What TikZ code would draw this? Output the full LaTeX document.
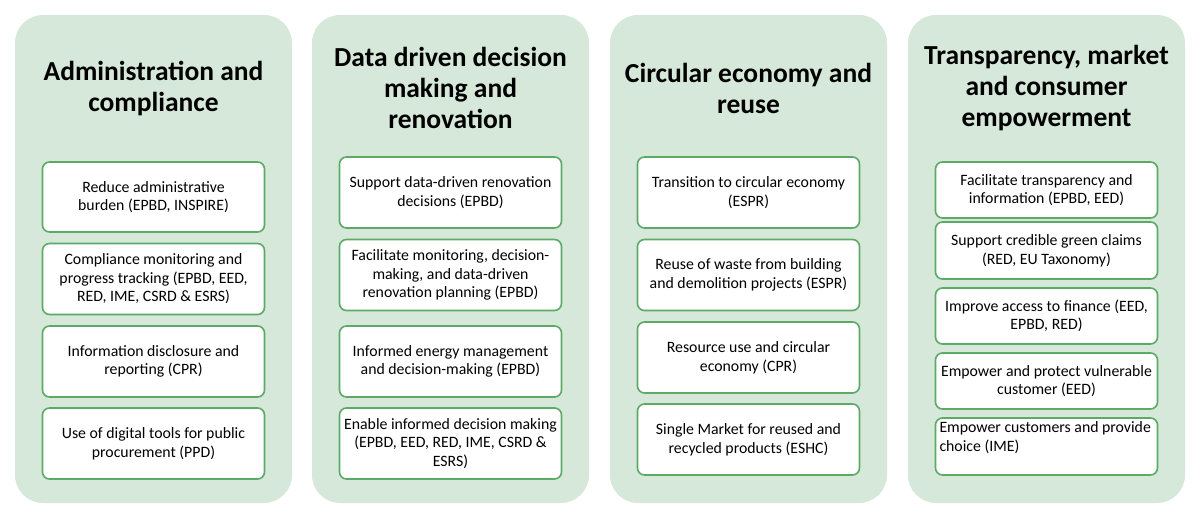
\documentclass[tikz,border=0pt]{standalone}
\usepackage{fontspec}
\setmainfont{Carlito}
\usepackage{tikz}

\definecolor{panelfill}{HTML}{D5E8D9}
\definecolor{boxline}{HTML}{5CAA66}

\begin{document}
\begin{tikzpicture}[x=1pt, y=-1pt,
  panel/.style={fill=panelfill, rounded corners=28pt},
  heading/.style={align=center, font=\fontsize{27.5}{31}\selectfont\bfseries},
  item/.style={draw=boxline, line width=1.6pt, fill=white, rounded corners=7pt,
    minimum width=222pt, inner sep=2pt, align=center,
    font=\fontsize{15.8}{18.6}\selectfont}]
  \useasboundingbox (0,0) rectangle (1200,519);

  % Column panels
  \fill[panel] (15,15) rectangle (292,503);
  \fill[panel] (312,15) rectangle (589,503);
  \fill[panel] (610,15) rectangle (887,503);
  \fill[panel] (908,15) rectangle (1185,503);

  % Column 1
  \node[heading] (admin) at (153.5,88) {Administration and\\compliance};
  \node[item, minimum height=70pt] (admin1) at (153.5,197)
    {Reduce administrative\\burden (EPBD, INSPIRE)};
  \node[item, minimum height=71pt] (admin2) at (153.5,279)
    {Compliance monitoring and\\progress tracking (EPBD, EED,\\RED, IME, CSRD \& ESRS)};
  \node[item, minimum height=71pt] (admin3) at (153.5,361.5)
    {Information disclosure and\\reporting (CPR)};
  \node[item, minimum height=71pt] (admin4) at (153.5,443.5)
    {Use of digital tools for public\\procurement (PPD)};

  % Column 2
  \node[heading] (data) at (450.5,88) {Data driven decision\\making and\\renovation};
  \node[item, minimum height=71pt] (data1) at (450.5,192.5)
    {Support data-driven renovation\\decisions (EPBD)};
  \node[item, minimum height=71pt] (data2) at (450.5,275)
    {Facilitate monitoring, decision-\\making, and data-driven\\renovation planning (EPBD)};
  \node[item, minimum height=71pt] (data3) at (450.5,361.5)
    {Informed energy management\\and decision-making (EPBD)};
  \node[item, minimum height=71pt] (data4) at (450.5,443.5)
    {Enable informed decision making\\(EPBD, EED, RED, IME, CSRD \&\\ESRS)};

  % Column 3
  \node[heading] (circ) at (748.5,88) {Circular economy and\\reuse};
  \node[item, minimum height=71pt] (circ1) at (748.5,192.5)
    {Transition to circular economy\\(ESPR)};
  \node[item, minimum height=71pt] (circ2) at (748.5,275)
    {Reuse of waste from building\\and demolition projects (ESPR)};
  \node[item, minimum height=71pt] (circ3) at (748.5,357.5)
    {Resource use and circular\\economy (CPR)};
  \node[item, minimum height=71pt] (circ4) at (748.5,439.5)
    {Single Market for reused and\\recycled products (ESHC)};

  % Column 4
  \node[heading] (market) at (1046.5,88) {Transparency, market\\and consumer\\empowerment};
  \node[item, minimum height=56pt] (market1) at (1046.5,190)
    {Facilitate transparency and\\information (EPBD, EED)};
  \node[item, minimum height=57pt] (market2) at (1046.5,250.5)
    {Support credible green claims\\(RED, EU Taxonomy)};
  \node[item, minimum height=56pt] (market3) at (1046.5,316)
    {Improve access to finance (EED,\\EPBD, RED)};
  \node[item, minimum height=56pt] (market4) at (1046.5,381)
    {Empower and protect vulnerable\\customer (EED)};
  \node[item, minimum height=57pt, inner sep=4pt] (market5) at (1046.5,446.5)
    {\parbox[t][49pt][t]{214pt}{\raggedright Empower customers and provide\\choice (IME)}};
\end{tikzpicture}
\end{document}
